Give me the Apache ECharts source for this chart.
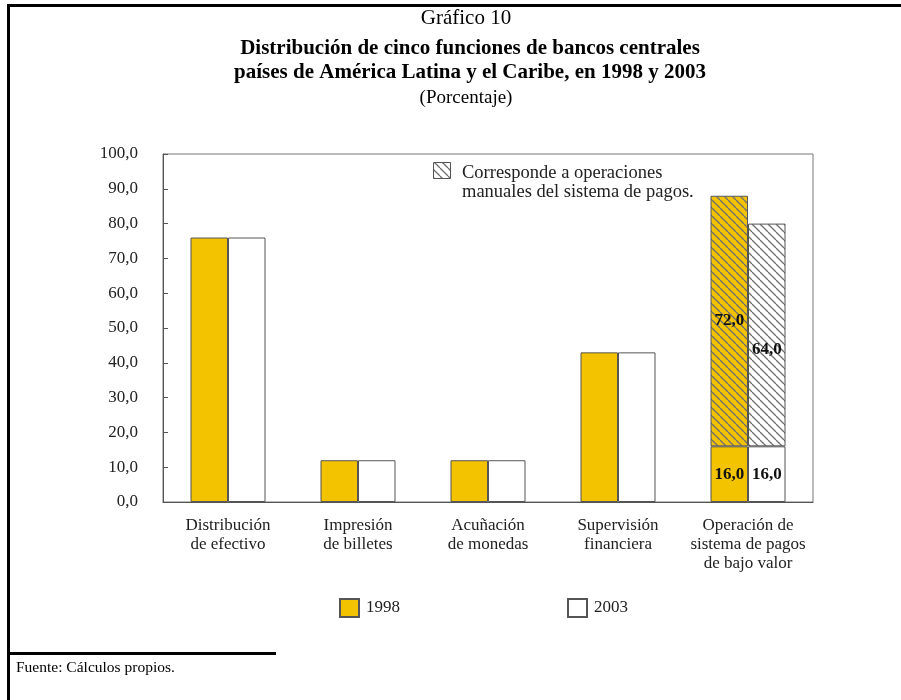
<!DOCTYPE html>
<html>
<head>
<meta charset="utf-8">
<script src="https://cdn.jsdelivr.net/npm/echarts@6/dist/echarts.min.js"></script>
<style>
  html, body { margin: 0; padding: 0; background: #fff; }
  #chart { width: 901px; height: 700px; }
</style>
</head>
<body>
<div id="chart"></div>
<script>
// Categories (five central bank functions)
const categories = [
  'Distribución\nde efectivo',
  'Impresión\nde billetes',
  'Acuñación\nde monedas',
  'Supervisión\nfinanciera',
  'Operación de\nsistema de pagos\nde bajo valor'
];
// Percentages per year; the manual share of payment-system operations is stacked on top
const base1998   = [76, 12, 12, 43, 16];
const manual1998 = ['-', '-', '-', '-', 72];
const base2003   = [76, 12, 12, 43, 16];
const manual2003 = ['-', '-', '-', '-', 64];
const yTickLabels = ['0,0', '10,0', '20,0', '30,0', '40,0', '50,0', '60,0', '70,0', '80,0', '90,0', '100,0'];
const labelledIndex = 4;

const SERIF = '"Liberation Serif", "DejaVu Serif", serif';
const YELLOW = '#F3C300';
const EDGE = '#555';

// Diagonal hatch tile
function hatch(bg) {
  const s = 8;
  const c = document.createElement('canvas');
  c.width = s; c.height = s;
  const g = c.getContext('2d');
  g.fillStyle = bg;
  g.fillRect(0, 0, s, s);
  g.strokeStyle = '#707070';
  g.lineWidth = 1.3;
  for (const k of [-s, 0, s]) {
    g.beginPath();
    g.moveTo(k, 0);
    g.lineTo(k + s, s);
    g.stroke();
  }
  return c;
}
const hatchYellow = { image: hatch(YELLOW), repeat: 'repeat' };
const hatchWhite = { image: hatch('#ffffff'), repeat: 'repeat' };

const fmt = v => String(Number(v).toFixed(1)).replace('.', ',');
const valueLabel = (offset) => ({
  show: true,
  position: 'inside',
  offset: offset || [0, 0],
  color: '#111',
  fontFamily: SERIF,
  fontWeight: 'bold',
  fontSize: 17,
  formatter: p => (p.dataIndex === labelledIndex ? fmt(p.value) : '')
});

const chart = echarts.init(document.getElementById('chart'), null, { renderer: 'canvas' });

chart.setOption({
  animation: false,
  backgroundColor: '#fff',
  title: [
    { text: 'Gráfico 10', left: 461, top: 3, textAlign: 'center',
      textStyle: { fontFamily: SERIF, fontWeight: 'normal', fontSize: 21, color: '#000' } },
    { text: 'Distribución de cinco funciones de bancos centrales\npaíses de América Latina y el Caribe, en 1998 y 2003',
      left: 465, top: 32, textAlign: 'center',
      textStyle: { fontFamily: SERIF, fontWeight: 'bold', fontSize: 21, lineHeight: 24, color: '#000' } },
    { text: '(Porcentaje)', left: 461, top: 84, textAlign: 'center',
      textStyle: { fontFamily: SERIF, fontWeight: 'normal', fontSize: 19, color: '#000' } }
  ],
  grid: {
    left: 163, right: 88, top: 154, bottom: 198,
    show: true, borderColor: '#777', borderWidth: 1, backgroundColor: 'transparent'
  },
  legend: {
    left: 334, top: 593,
    itemWidth: 19, itemHeight: 18, itemGap: 167,
    icon: 'rect',
    data: ['1998', '2003'],
    textStyle: { fontFamily: SERIF, fontSize: 17, color: '#222', padding: [3, 0, 0, 2] }
  },
  xAxis: {
    type: 'category',
    data: categories,
    axisLine: { lineStyle: { color: EDGE, width: 1 } },
    axisTick: { inside: true, length: 5, lineStyle: { color: EDGE } },
    axisLabel: { interval: 0, fontFamily: SERIF, fontSize: 17, color: '#222', lineHeight: 19, margin: 14 }
  },
  yAxis: {
    type: 'value',
    min: 0, max: 100, interval: 10,
    splitLine: { show: false },
    axisLine: { show: true, lineStyle: { color: EDGE, width: 1 } },
    axisTick: { show: true, inside: true, length: 5, lineStyle: { color: EDGE } },
    axisLabel: {
      fontFamily: SERIF, fontSize: 17, color: '#222', margin: 25,
      formatter: v => yTickLabels[Math.round(v / 10)]
    }
  },
  series: [
    { name: '1998', type: 'bar', stack: 'y1998', data: base1998,
      barWidth: 37.5, barGap: '0%',
      itemStyle: { color: YELLOW, borderColor: EDGE, borderWidth: 1 },
      label: valueLabel() },
    { name: '1998 manual', type: 'bar', stack: 'y1998', data: manual1998,
      barWidth: 37.5, barGap: '0%',
      itemStyle: { color: hatchYellow, borderColor: EDGE, borderWidth: 1 },
      label: valueLabel() },
    { name: '2003', type: 'bar', stack: 'y2003', data: base2003,
      barWidth: 37.5, barGap: '0%',
      itemStyle: { color: '#fff', borderColor: EDGE, borderWidth: 1 },
      label: valueLabel() },
    { name: '2003 manual', type: 'bar', stack: 'y2003', data: manual2003,
      barWidth: 37.5, barGap: '0%',
      itemStyle: { color: hatchWhite, borderColor: EDGE, borderWidth: 1 },
      label: valueLabel([0, 15]) }
  ],
  graphic: [
    // page frame
    { type: 'line', shape: { x1: 8.5, y1: 5.5, x2: 901, y2: 5.5 }, style: { stroke: '#000', lineWidth: 3 } },
    { type: 'line', shape: { x1: 8.5, y1: 4, x2: 8.5, y2: 700 }, style: { stroke: '#000', lineWidth: 3 } },
    { type: 'line', shape: { x1: 8.5, y1: 653.5, x2: 276, y2: 653.5 }, style: { stroke: '#000', lineWidth: 3 } },
    { type: 'text', left: 16, top: 660,
      style: { text: 'Fuente: Cálculos propios.', font: '15.5px ' + SERIF, fill: '#000' } },
    // hatch key inside the plot
    { type: 'rect', shape: { x: 433.5, y: 162.5, width: 17, height: 16 },
      style: { fill: hatchWhite, stroke: EDGE, lineWidth: 1 } },
    { type: 'text', left: 462, top: 164,
      style: { text: 'Corresponde a operaciones\nmanuales del sistema de pagos.',
        font: '18.5px ' + SERIF, lineHeight: 19, fill: '#222' } }
  ]
});
</script>
</body>
</html>
